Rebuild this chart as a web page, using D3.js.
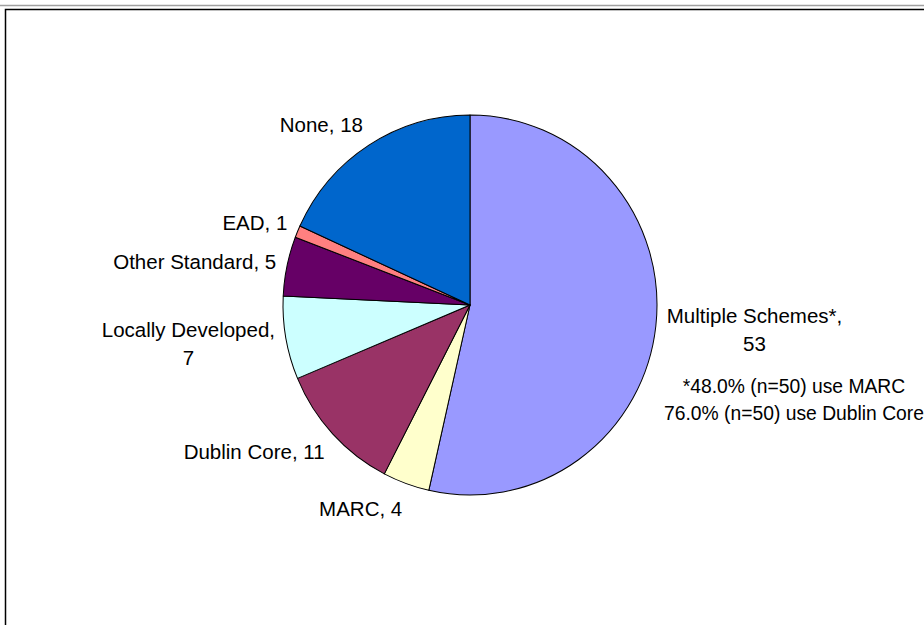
<!DOCTYPE html>
<html>
<head>
<meta charset="utf-8">
<script src="https://cdn.jsdelivr.net/npm/d3@7"></script>
<style>
  html, body { margin: 0; padding: 0; background: #ffffff; }
  svg { display: block; font-family: Arial, "Liberation Sans", sans-serif; }
</style>
</head>
<body>
<div id="chart"></div>
<script>
// data
const categories = ["Multiple Schemes*", "MARC", "Dublin Core", "Locally Developed", "Other Standard", "EAD", "None"];
const values = [53, 4, 11, 7, 5, 1, 18];
const sliceColors = ["#9999ff", "#ffffcc", "#993366", "#ccffff", "#660066", "#ff8080", "#0066cc"];
// label lines (some labels wrap in the original)
const labelLines = [["Multiple Schemes*,", "53"], ["MARC, 4"], ["Dublin Core, 11"], ["Locally Developed,", "7"], ["Other Standard, 5"], ["EAD, 1"], ["None, 18"]];
const footnote = ["*48.0% (n=50) use MARC", "76.0% (n=50) use Dublin Core"];

const width = 924, height = 625;
const cx = 470, cy = 305;
const radius = 187;
const fontSize = 20.5;
const lineH = 28;

const svg = d3.select("#chart").append("svg")
  .attr("width", width)
  .attr("height", height);

// chart frame
svg.append("line")
  .attr("x1", 0).attr("x2", width).attr("y1", 5.5).attr("y2", 5.5)
  .attr("stroke", "#a0a0a0").attr("stroke-width", 1.5);
svg.append("rect")
  .attr("x", 5.5).attr("y", 9.5)
  .attr("width", width + 20).attr("height", height + 20)
  .attr("fill", "#ffffff")
  .attr("stroke", "#000000").attr("stroke-width", 1.5);

const pie = d3.pie().sort(null).value(d => d);
const arcs = pie(values);

const arc = d3.arc().innerRadius(0).outerRadius(radius);

const g = svg.append("g")
  .attr("transform", `translate(${cx},${cy}) scale(1,1.016)`);

g.selectAll("path")
  .data(arcs)
  .join("path")
  .attr("d", arc)
  .attr("fill", (d, i) => sliceColors[i])
  .attr("stroke", "#000000")
  .attr("stroke-width", 1)
  .attr("stroke-linejoin", "round");

// labels placed outside the pie
const labelR = radius + 11;
const labels = svg.append("g");
arcs.forEach((d, i) => {
  const a = (d.startAngle + d.endAngle) / 2;
  const s = Math.sin(a), c = Math.cos(a);
  const px = cx + labelR * s;
  const py = cy - labelR * c * 1.016;
  const lines = labelLines[i];
  const t = labels.append("text")
    .attr("font-size", fontSize)
    .attr("fill", "#000000")
    .attr("text-anchor", "middle");
  lines.forEach((ln, k) => {
    t.append("tspan").attr("x", 0).attr("y", k * lineH).text(ln);
  });
  const w = t.node().getBBox().width;
  const bx = px + Math.sign(s) * w / 2;
  // vertical centre of the label block
  const by = py - c * 14 + 1;
  const firstBase = by - (lines.length - 1) * lineH / 2 + fontSize * 0.36;
  t.attr("transform", `translate(${bx},${firstBase})`);
});

// footnote text box
const fn = svg.append("text")
  .attr("font-size", 19.3)
  .attr("fill", "#000000")
  .attr("text-anchor", "middle");
footnote.forEach((ln, k) => {
  fn.append("tspan").attr("x", 794).attr("y", 393 + k * 27).text(ln);
});
</script>
</body>
</html>
